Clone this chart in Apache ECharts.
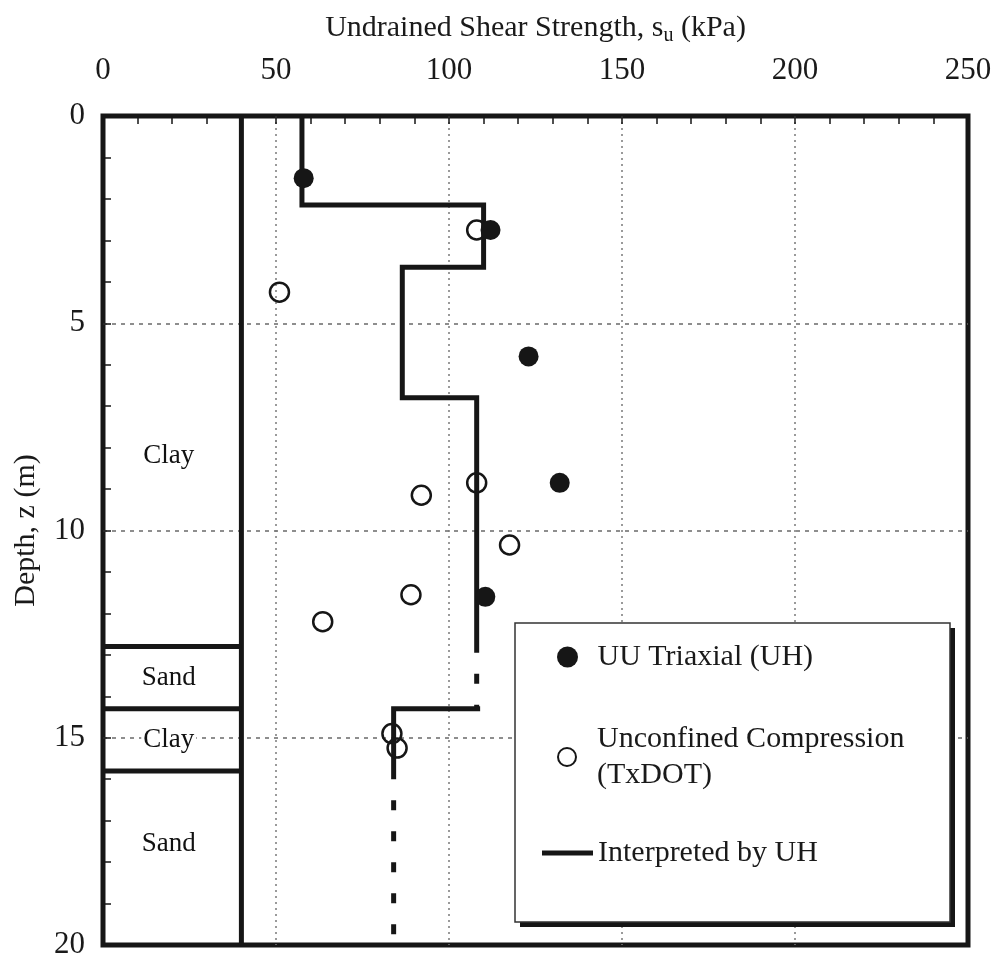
<!DOCTYPE html>
<html><head><meta charset="utf-8">
<script src="https://cdn.jsdelivr.net/npm/echarts@6/dist/echarts.min.js"></script>
<style>html,body{margin:0;padding:0;background:#fff}#c{width:1001px;height:960px}</style>
</head><body><div id="c"></div>
<script>
// ---- data ----
const xTickValues = [0, 50, 100, 150, 200, 250];
const depthTickValues = [0, 5, 10, 15, 20];
const uuTriaxial = [[58, 1.5], [112, 2.75], [123, 5.8], [132, 8.85], [110.5, 11.6]];
const unconfined = [[108, 2.75], [51, 4.25], [108, 8.85], [92, 9.15], [117.5, 10.35], [89, 11.55], [63.5, 12.2], [83.5, 14.9], [85, 15.25]];
const interpretedUpper = [[57.5, 0], [57.5, 2.15], [110, 2.15], [110, 3.65], [86.5, 3.65], [86.5, 6.8], [108, 6.8], [108, 12.95]];
const interpretedSand1 = [[108, 12.95], [108, 14.3]];
const interpretedLower = [[109, 14.3], [84, 14.3], [84, 16]];
const interpretedSand2 = [[84, 16], [84, 20]];
const soilColumnEdge = 40;
const layerBoundaries = [12.8, 14.3, 15.8];
const layerNames = ['Clay', 'Sand', 'Clay', 'Sand'];
const layerLabelDepths = [8.2, 13.55, 15.05, 17.55];
const layerLabelX = 19;

const FONT = 'Liberation Serif';
const INK = '#161616';
const TXT = '#1a1a1a';
const chart = echarts.init(document.getElementById('c'));

const lineSeries = (name, data, dashed) => ({
  name, type: 'line', data, symbol: 'none', showSymbol: false, z: 3, silent: true,
  lineStyle: dashed ? { color: INK, width: 5, type: [10, 21], dashOffset: 10, cap: 'butt' }
                    : { color: INK, width: 5, cap: 'butt', join: 'miter' },
  animation: false
});

const soilSeries = [lineSeries('soilEdge', [[soilColumnEdge, 0], [soilColumnEdge, 20]], false)];
layerBoundaries.forEach((b, i) => soilSeries.push(lineSeries('boundary' + i, [[0, b], [soilColumnEdge, b]], false)));

const legendText = { fontFamily: FONT, fontSize: 30, color: TXT, lineHeight: 36 };

chart.setOption({
  animation: false,
  backgroundColor: '#fff',
  textStyle: { fontFamily: FONT },
  grid: { left: 103, top: 116, right: 33, bottom: 15, show: true, borderColor: INK, borderWidth: 5,
          backgroundColor: 'transparent', containLabel: false, outerBoundsMode: 'none' },
  xAxis: {
    type: 'value', position: 'top', min: 0, max: 250, interval: 50,
    name: '{a|Undrained Shear Strength, s}{sub|u}{a| (kPa)}',
    nameLocation: 'middle', nameGap: 70,
    nameTextStyle: { rich: { a: { fontFamily: FONT, fontSize: 30, color: TXT, lineHeight: 36 },
                             sub: { fontFamily: FONT, fontSize: 20, color: TXT, lineHeight: 20, verticalAlign: 'bottom' } } },
    axisLine: { show: false },
    axisTick: { show: true, inside: true, length: 8, lineStyle: { color: INK, width: 1.5 } },
    minorTick: { show: true, splitNumber: 5, length: 8, lineStyle: { color: INK, width: 1.5 } },
    axisLabel: { fontFamily: FONT, fontSize: 31, color: TXT, margin: 30, customValues: xTickValues },
    splitLine: { show: true, showMinLine: false, showMaxLine: false, lineStyle: { color: '#7a7a7a', width: 1.5, type: [2, 4] } }
  },
  yAxis: {
    type: 'value', inverse: true, min: 0, max: 20, interval: 5,
    name: 'Depth, z (m)', nameLocation: 'middle', nameGap: 62, nameRotate: 90,
    nameTextStyle: { fontFamily: FONT, fontSize: 30, color: TXT },
    axisLine: { show: false },
    axisTick: { show: true, inside: true, length: 8, lineStyle: { color: INK, width: 1.5 } },
    minorTick: { show: true, splitNumber: 5, length: 8, lineStyle: { color: INK, width: 1.5 } },
    axisLabel: { fontFamily: FONT, fontSize: 31, color: TXT, margin: 18, customValues: depthTickValues },
    splitLine: { show: true, showMinLine: false, showMaxLine: false, lineStyle: { color: '#6a6a6a', width: 1.5, type: [4, 5] } }
  },
  legend: [
    { data: [{ name: 'UU Triaxial (UH)', icon: 'circle', itemStyle: { color: INK, borderWidth: 0 } }],
      left: 557, top: 639, itemWidth: 50, itemHeight: 21, padding: 0, z: 10, selectedMode: false,
      textStyle: legendText },
    { data: [{ name: 'Unconfined Compression (TxDOT)', icon: 'circle', itemStyle: { color: 'rgba(0,0,0,0)', borderColor: INK, borderWidth: 2 } }],
      left: 557, top: 703, itemWidth: 50, itemHeight: 18, padding: 0, z: 10, selectedMode: false,
      formatter: n => n.replace(' (', '\n('),
      textStyle: Object.assign({}, legendText, { padding: [36, 0, 0, 0] }) },
    { data: [{ name: 'Interpreted by UH', icon: 'rect', itemStyle: { color: INK, borderWidth: 0 } }],
      left: 542, top: 835, itemWidth: 51, itemHeight: 5, padding: 0, z: 10, selectedMode: false,
      textStyle: legendText }
  ],
  graphic: { elements: [
    { type: 'rect', z: 3, silent: true, shape: { x: 520, y: 628, width: 435, height: 299 }, style: { fill: INK } },
    { type: 'rect', z: 3, silent: true, shape: { x: 515, y: 623, width: 435, height: 299 }, style: { fill: '#fff', stroke: '#333', lineWidth: 1.5 } }
  ] },
  series: [
    ...soilSeries,
    {
      name: 'soilLabels', type: 'scatter', symbolSize: 1, z: 4, silent: true,
      itemStyle: { color: 'rgba(0,0,0,0)' },
      data: layerNames.map((n, i) => ({ name: n, value: [layerLabelX, layerLabelDepths[i]] })),
      label: { show: true, position: 'inside', formatter: '{b}', fontFamily: FONT, fontSize: 27,
               color: '#111', opacity: 1, textBorderWidth: 0, backgroundColor: '#fff', padding: [0, 2] }
    },
    lineSeries('Interpreted by UH', interpretedUpper, false),
    lineSeries('interpSand1', interpretedSand1, true),
    lineSeries('interpLower', interpretedLower, false),
    lineSeries('interpSand2', interpretedSand2, true),
    {
      name: 'Unconfined Compression (TxDOT)', type: 'scatter', data: unconfined, symbol: 'circle', symbolSize: 19, z: 5,
      itemStyle: { color: 'rgba(0,0,0,0)', borderColor: INK, borderWidth: 2.5, opacity: 1 }
    },
    {
      name: 'UU Triaxial (UH)', type: 'scatter', data: uuTriaxial, symbol: 'circle', symbolSize: 20, z: 6,
      itemStyle: { color: INK, opacity: 1 }
    }
  ]
});
</script></body></html>
